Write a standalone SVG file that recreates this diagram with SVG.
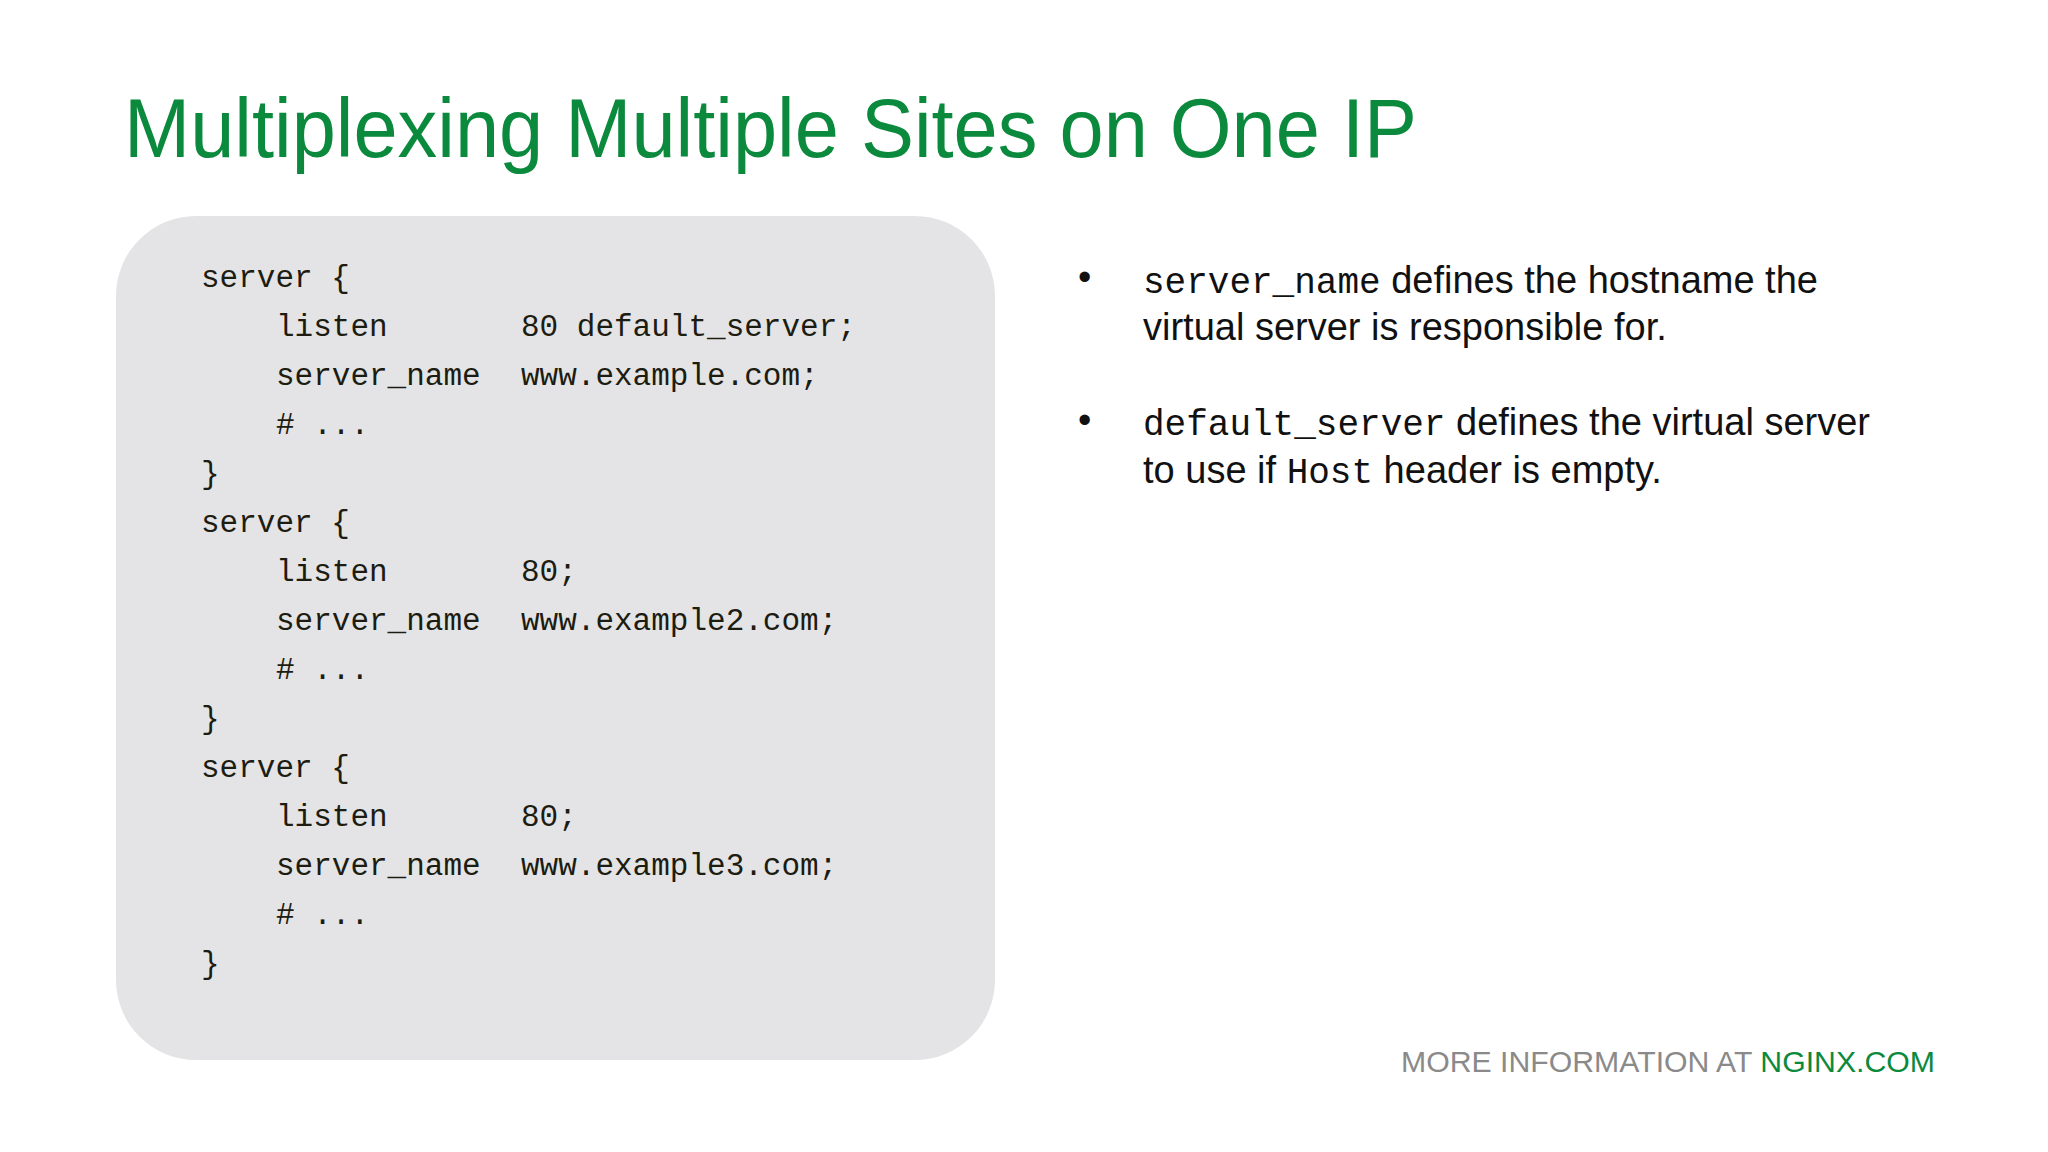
<svg xmlns="http://www.w3.org/2000/svg" width="2048" height="1152" viewBox="0 0 2048 1152">
<style>
.code{font-family:"Liberation Mono",monospace;font-size:31px;fill:#1c1c10}
.body{font-family:"Liberation Sans",Arial,sans-serif;font-size:38px;fill:#111}
.mono{font-family:"Liberation Mono",monospace;font-size:36px}
</style>
<rect width="2048" height="1152" fill="#fff"/>
<text x="124" y="157" font-family="Liberation Sans,Arial,sans-serif" font-size="84" fill="#0b8a3e" textLength="1293" lengthAdjust="spacingAndGlyphs">Multiplexing Multiple Sites on One IP</text>
<g id="code-box">
<rect x="116" y="216" width="879" height="844" rx="80" fill="#e4e4e6"/>
<g class="code">
<text x="201" y="287">server {</text>
<text x="276" y="336">listen</text><text x="521" y="336">80 default_server;</text>
<text x="276" y="385">server_name</text><text x="521" y="385">www.example.com;</text>
<text x="276" y="434"># ...</text>
<text x="201" y="483">}</text>
<text x="201" y="532">server {</text>
<text x="276" y="581">listen</text><text x="521" y="581">80;</text>
<text x="276" y="630">server_name</text><text x="521" y="630">www.example2.com;</text>
<text x="276" y="679"># ...</text>
<text x="201" y="728">}</text>
<text x="201" y="777">server {</text>
<text x="276" y="826">listen</text><text x="521" y="826">80;</text>
<text x="276" y="875">server_name</text><text x="521" y="875">www.example3.com;</text>
<text x="276" y="924"># ...</text>
<text x="201" y="973">}</text>
</g>
</g>
<g id="bullets" class="body">
<text x="1078" y="290">•</text>
<text x="1143" y="293"><tspan class="mono">server_name</tspan> defines the hostname the</text>
<text x="1143" y="340">virtual server is responsible for.</text>
<text x="1078" y="433">•</text>
<text x="1143" y="435"><tspan class="mono">default_server</tspan> defines the virtual server</text>
<text x="1143" y="483">to use if <tspan class="mono">Host</tspan> header is empty.</text>
</g>
<text x="1401" y="1072" font-family="Liberation Sans,Arial,sans-serif" font-size="29" fill="#8a8a8a" textLength="534" lengthAdjust="spacingAndGlyphs">MORE INFORMATION AT <tspan fill="#0b8a3e">NGINX.COM</tspan></text>
</svg>
